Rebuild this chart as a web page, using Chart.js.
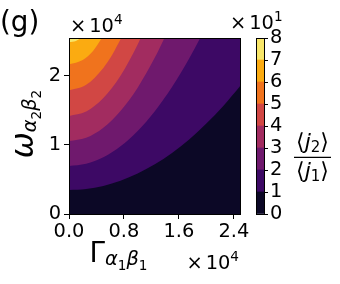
<!DOCTYPE html>
<html><head><meta charset="utf-8">
<script src="https://cdn.jsdelivr.net/npm/chart.js@4.4.1/dist/chart.umd.min.js"></script>
<style>
html,body{margin:0;padding:0;background:#fff;}
#wrap{position:relative;width:340px;height:284px;overflow:hidden;background:#fff;}
canvas{position:absolute;left:0;top:0;}
svg{position:absolute;left:0;top:0;}
</style></head><body>
<div id="wrap">
<canvas id="main" width="340" height="284"></canvas>
<canvas id="cbar" width="340" height="284"></canvas>
<svg width="340" height="284" font-family="DejaVu Sans" fill="#000">
<text x="0" y="31.3" font-size="27.8">(g)</text>
<text x="70" y="32.3" font-size="19.4">×<tspan dx="3">10</tspan><tspan font-size="13.6" dy="-8">4</tspan></text>
<text x="230" y="28.5" font-size="19.4">×<tspan dx="3">10</tspan><tspan font-size="13.6" dy="-8">1</tspan></text>
<text x="239" y="268.5" font-size="19.4" text-anchor="end">×<tspan dx="3">10</tspan><tspan font-size="13.6" dy="-8">4</tspan></text>
<text x="89.5" y="262" font-size="27.8">Γ<tspan font-size="19.4" font-style="italic" dy="2.5">α</tspan><tspan font-size="13.6" dy="5">1</tspan><tspan font-size="19.4" font-style="italic" dy="-5">β</tspan><tspan font-size="13.6" dy="5">1</tspan></text>
<text transform="translate(33,124) rotate(-90)" text-anchor="middle" font-size="31"><tspan font-style="italic">ω</tspan><tspan font-size="19.4" font-style="italic" dy="2.5">α</tspan><tspan font-size="13.6" dy="5">2</tspan><tspan font-size="19.4" font-style="italic" dy="-5">β</tspan><tspan font-size="13.6" dy="5">2</tspan></text>
<text x="312.5" y="148.5" font-size="22" text-anchor="middle">⟨<tspan font-style="italic">j</tspan><tspan font-size="15" dy="3">2</tspan><tspan dy="-3">⟩</tspan></text>
<line x1="294" y1="157.3" x2="331" y2="157.3" stroke="#000" stroke-width="1.2"/>
<text x="312.5" y="178" font-size="22" text-anchor="middle">⟨<tspan font-style="italic">j</tspan><tspan font-size="15" dy="3">1</tspan><tspan dy="-3">⟩</tspan></text>
</svg>
</div>
<script>
// axis ticks (Γ and ω in units of 1e4, ratio in units of 10)
const gammaTicks = [0, 0.8, 1.6, 2.4];
const omegaTicks = [0, 1, 2];
const ratioLevels = [0, 1, 2, 3, 4, 5, 6, 7, 8];
const gammaMax = 2.49;
const omegaMax = 2.55;

// contour boundaries: [Γ, ω] pairs (×1e4)
const level0  = [[0, 0], [2.49, 0]];
const level10 = [[0,0.348],[0.25,0.363],[0.5,0.407],[0.75,0.482],[1.0,0.586],[1.25,0.719],[1.5,0.885],[1.75,1.08],[2.0,1.31],[2.25,1.57],[2.49,1.85]];
const level20 = [[0,0.696],[0.25,0.728],[0.5,0.823],[0.75,0.982],[1.0,1.204],[1.25,1.49],[1.5,1.84],[1.75,2.253],[1.91,2.55]];
const level30 = [[0,1.058],[0.25,1.106],[0.5,1.251],[0.75,1.493],[1.0,1.831],[1.25,2.266],[1.39,2.55]];
const level40 = [[0,1.42],[0.25,1.485],[0.5,1.679],[0.75,2.003],[1.0,2.457],[1.044,2.55]];
const level50 = [[0,1.79],[0.25,1.872],[0.5,2.117],[0.625,2.30],[0.76,2.55]];
const level60 = [[0,2.17],[0.2,2.233],[0.35,2.363],[0.48,2.55]];
const level70 = [[0,2.49],[0.1,2.508],[0.18,2.55]];

const bandColors = ['#0c0826','#3d0965','#6f196d','#a22c60','#d14744','#f0731d','#fbab11','#f8e669'];
const boundaries = [level0, level10, level20, level30, level40, level50, level60, level70];

const FONT = 'DejaVu Sans';
function noPad(s){ s.paddingTop = 0; s.paddingBottom = 0; s.paddingLeft = 0; s.paddingRight = 0; }
const blackBorder = {display: true, color: '#000', width: 1, z: 1};
const tickGrid = {drawOnChartArea: false, drawTicks: true, tickLength: 5, color: '#000', lineWidth: 1};
const tickFont = {family: FONT, size: 19.4, lineHeight: 1};

new Chart(document.getElementById('main'), {
  type: 'line',
  data: {
    datasets: boundaries.map((b, i) => ({
      data: b.map(p => ({x: p[0], y: p[1]})),
      fill: 'end',
      backgroundColor: bandColors[i],
      borderColor: 'rgba(0,0,0,0)',
      borderWidth: 0,
      pointRadius: 0,
      cubicInterpolationMode: 'monotone',
      order: boundaries.length - i
    }))
  },
  options: {
    responsive: false, animation: false,
    layout: {padding: {left: 0, top: 38, right: 100, bottom: 0}},
    plugins: {legend: {display: false}, tooltip: {enabled: false}},
    scales: {
      x: {type: 'linear', position: 'bottom', min: 0, max: gammaMax,
        afterBuildTicks: s => { s.ticks = gammaTicks.map(v => ({value: v})); },
        afterFit: s => { s.height = 70; noPad(s); },
        ticks: {callback: v => Number(v).toFixed(1), color: '#000', font: tickFont, padding: 3, maxRotation: 0, minRotation: 0, autoSkip: false},
        grid: tickGrid, border: blackBorder},
      y: {type: 'linear', position: 'left', min: 0, max: omegaMax,
        afterBuildTicks: s => { s.ticks = omegaTicks.map(v => ({value: v})); },
        afterFit: s => { s.width = 69; noPad(s); },
        ticks: {callback: v => String(v), color: '#000', font: tickFont, padding: 3, autoSkip: false},
        grid: tickGrid, border: blackBorder},
      x2: {type: 'linear', position: 'top', min: 0, max: gammaMax, display: true,
        ticks: {display: false}, grid: {display: false}, border: blackBorder,
        afterFit: s => { s.height = 0; noPad(s); }},
      y2: {type: 'linear', position: 'right', min: 0, max: omegaMax, display: true,
        ticks: {display: false}, grid: {display: false}, border: blackBorder,
        afterFit: s => { s.width = 0; noPad(s); }}
    }
  }
});

new Chart(document.getElementById('cbar'), {
  type: 'bar',
  data: {
    labels: ['c'],
    datasets: bandColors.map((c, i) => ({
      data: [[ratioLevels[i], ratioLevels[i + 1]]],
      backgroundColor: c, borderWidth: 0,
      barPercentage: 1, categoryPercentage: 1, grouped: false
    }))
  },
  options: {
    responsive: false, animation: false,
    layout: {padding: 0},
    plugins: {legend: {display: false}, tooltip: {enabled: false}},
    scales: {
      x: {type: 'category', position: 'bottom', display: true,
        ticks: {display: false}, grid: {display: false}, border: blackBorder,
        afterFit: s => { s.height = 70; noPad(s); }},
      x2: {type: 'category', labels: ['c'], position: 'top', display: true,
        ticks: {display: false}, grid: {display: false}, border: blackBorder,
        afterFit: s => { s.height = 38; noPad(s); }},
      y: {type: 'linear', position: 'right', min: 0, max: 8,
        afterBuildTicks: s => { s.ticks = ratioLevels.map(v => ({value: v})); },
        afterFit: s => { s.width = 76; noPad(s); },
        ticks: {callback: v => String(v), color: '#000', font: tickFont, padding: 2, autoSkip: false},
        grid: {drawOnChartArea: false, drawTicks: true, tickLength: 4, color: '#000', lineWidth: 1},
        border: blackBorder},
      y2: {type: 'linear', position: 'left', min: 0, max: 8, display: true,
        ticks: {display: false}, grid: {display: false}, border: blackBorder,
        afterFit: s => { s.width = 256; noPad(s); }}
    }
  }
});
</script>
</body></html>
